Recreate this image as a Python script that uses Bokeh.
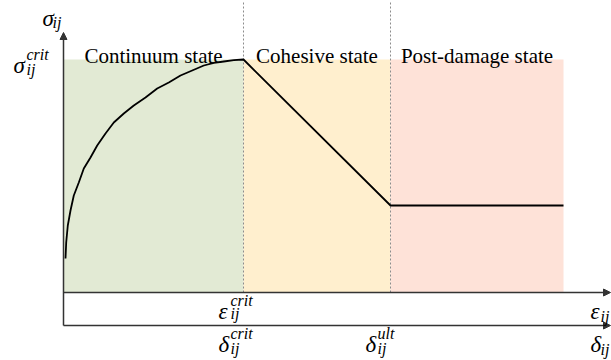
from bokeh.plotting import figure
from bokeh.models import Range1d, Arrow, NormalHead, Label
from bokeh.embed import file_html
from bokeh.resources import INLINE

# ---- data (schematic units: strain/displacement on x, stress on y) ----
curve_x = [2, 2.7, 4.3, 7, 10.3, 15.3, 20.3, 27, 33.7, 42, 50.3, 60.3, 70.3, 82, 93.7,
           105.3, 117, 128.7, 140.3, 150.3, 160.3, 170.3, 180]
curve_y = [34, 50, 67, 82, 97, 110, 124, 135, 147, 159, 170, 179, 187, 195, 204,
           210, 217, 222, 227, 229.7, 231, 232.3, 233]
delta_crit = 180
delta_ult = 327
delta_end = 500
sigma_crit = 233
sigma_res = 87
state_names = ["Continuum state", "Cohesive state", "Post-damage state"]
state_colors = ["#E2EAD4", "#FFEFCE", "#FEE2D8"]

x_min, x_max = -63, 548
y_min, y_max = -68, 292

p = figure(width=611, height=360, x_range=Range1d(x_min, x_max), y_range=Range1d(y_min, y_max),
           output_backend="svg", toolbar_location=None, min_border=0)
p.axis.visible = False
p.grid.visible = False
p.outline_line_color = None
p.background_fill_color = "white"
p.border_fill_color = "white"

SERIF = "Liberation Serif"

# state regions
lefts = [0, delta_crit, delta_ult]
rights = [delta_crit, delta_ult, delta_end]
p.quad(left=lefts, right=rights, bottom=[0, 0, 0], top=[sigma_crit] * 3,
       fill_color=state_colors, line_color=None)

# dotted boundaries
p.segment(x0=[delta_crit, delta_ult], y0=[0, 0], x1=[delta_crit, delta_ult], y1=[y_max, y_max],
          line_color="#8c8c8c", line_dash="2 2", line_width=1)

# state titles
for l, r, name in zip(lefts, rights, state_names):
    p.add_layout(Label(x=(l + r) / 2, y=sigma_crit + 4, text=name, text_align="center",
                       text_baseline="alphabetic", text_font=SERIF, text_font_size="21px",
                       text_color="black"))

# stress curve
full_x = curve_x + [delta_ult, delta_end]
full_y = curve_y + [sigma_res, sigma_res]
p.line(full_x, full_y, line_color="black", line_width=1.8, line_join="round")

# axes with arrows
ax_col = "#333333"
for xs, ys, xe, ye in [(0, -33, 0, 260), (0, 0, 547, 0), (0, -33, 547, -33)]:
    p.add_layout(Arrow(end=NormalHead(size=7, fill_color=ax_col, line_color=ax_col),
                       x_start=xs, y_start=ys, x_end=xe, y_end=ye,
                       line_color=ax_col, line_width=1.5))

# math-like labels: (symbol, x, baseline y, sup, sub, script x, sup baseline, sub baseline)
labels = [
    ("σ", -21, 274, "", "ij", -11, 0, 270),
    ("σ", -50, 227, "crit", "ij", -37, 238, 223),
    ("ε", 155, -19, "crit", "ij", 167, -8, -21),
    ("δ", 155, -52, "crit", "ij", 167, -41, -56),
    ("δ", 302, -52, "ult", "ij", 314, -41, -56),
    ("ε", 527, -19, "", "ij", 537, 0, -24),
    ("δ", 527, -52, "", "ij", 537, 0, -57),
]


def put(x, y, txt, size):
    p.add_layout(Label(x=x, y=y, text=txt, text_font=SERIF, text_font_style="italic",
                       text_font_size=size, text_align="left", text_baseline="alphabetic",
                       text_color="black"))


for sym, x, y, sup, sub, sx, sup_y, sub_y in labels:
    put(x, y, sym, "23px")
    if sup:
        put(sx, sup_y, sup, "16px")
    put(sx, sub_y, sub, "16px")

open("out.html", "w").write(file_html(p, INLINE))
